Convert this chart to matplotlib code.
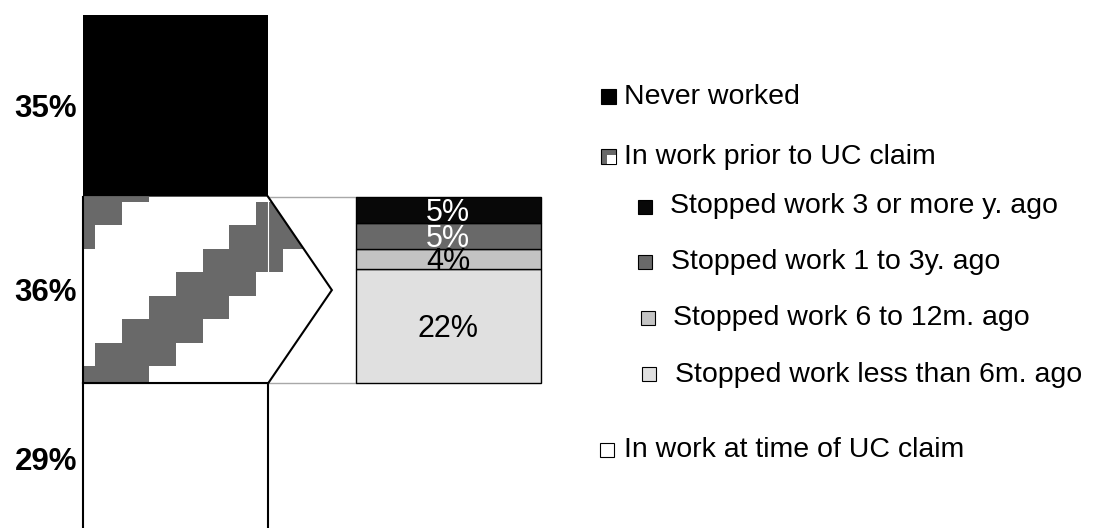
import matplotlib
matplotlib.use('Agg')
import matplotlib.pyplot as plt
from matplotlib.patches import Polygon, Rectangle
from matplotlib.collections import PatchCollection
from matplotlib.transforms import Affine2D, offset_copy

plt.rcParams['font.family'] = ['Liberation Sans', 'DejaVu Sans']

# ---------------- data ----------------
main_labels = ['In work at time of UC claim', 'In work prior to UC claim', 'Never worked']
main_values = [29, 36, 35]                       # stacked bottom -> top
main_text = ['29%', '36%', '35%']

sub_labels = ['Stopped work less than 6m. ago', 'Stopped work 6 to 12m. ago',
              'Stopped work 1 to 3y. ago', 'Stopped work 3 or more y. ago']
sub_values = [22, 4, 5, 5]                       # stacked bottom -> top
sub_text = ['22%', '4%', '5%', '5%']

# ---------------- styles ----------------
main_colors = ['white', 'white', 'black']
sub_colors = ['#e0e0e0', '#c3c3c3', '#696969', '#080808']
sub_text_colors = ['black', 'black', 'white', 'white']
pattern_gray = '#696969'

W, H = 1107, 528
fig = plt.figure(figsize=(W / 100, H / 100), dpi=100)
ax = fig.add_axes([0, 0, 1, 1])
ax.axis('off')

xpx = 272.5        # pixels per x unit
ypx = 5.19         # pixels per percent
x_c0 = 175.5       # pixel position of first bar centre
top_px = 15        # pixel position of 100%
ax.set_xlim(-x_c0 / xpx, (W - x_c0) / xpx)
ymax = 100 + top_px / ypx
ax.set_ylim(ymax - H / ypx, ymax)

bw = 185 / xpx
hw = bw / 2

# ---------- left stacked bar ----------
bottoms = [0, main_values[0], main_values[0] + main_values[1]]
for i, (v, b, c) in enumerate(zip(main_values, bottoms, main_colors)):
    ec = 'black' if i == 0 else 'none'
    ax.bar(0, v, width=bw, bottom=b, color=c, edgecolor=ec, linewidth=1.5, zorder=2)

mid_lo = bottoms[1]
mid_hi = bottoms[1] + main_values[1]
mid_c = (mid_lo + mid_hi) / 2
x0, x1 = -hw, hw
tip = x1 + 0.73 * (1 - 2 * hw)

# arrow shaped region (bar middle + pointer)
arrow = Polygon([(x0, mid_lo), (x0, mid_hi), (x1, mid_hi), (tip, mid_c), (x1, mid_lo)],
                closed=True, facecolor='white', edgecolor='none', zorder=2)
ax.add_patch(arrow)

# staircase pattern inside the arrow region
cw = 26.8 / xpx
rh = 23.5 / ypx
col0 = x0 + 12.3 / xpx
row0 = mid_hi - 5.0 / ypx
cells = []
for r in range(-1, 9):
    for c in range(-1, 10):
        if (c + r + 2) % 8 in (0, 1, 2):
            cells.append(Rectangle((col0 + c * cw, row0 - (r + 1) * rh), cw, rh))
pc = PatchCollection(cells, facecolor=pattern_gray, edgecolor='none', zorder=3)
ax.add_collection(pc)
pc.set_clip_path(arrow)

# outlines
ax.plot([x1, x1], [mid_lo, mid_hi], color='white', lw=0.8, zorder=4)
ax.plot([x1, tip, x1], [mid_hi, mid_c, mid_lo], color='black', lw=1.5, zorder=5,
        solid_joinstyle='miter')
ax.plot([x0, x0], [mid_lo, mid_hi], color='black', lw=1.5, zorder=5)
ax.plot([x0, x1], [mid_lo, mid_lo], color='black', lw=1.5, zorder=5)

# connector lines
ax.plot([x1, 1 - hw], [mid_hi, mid_hi], color='#a8a8a8', lw=1.0, zorder=1)
ax.plot([x1, 1 - hw], [mid_lo, mid_lo], color='#a8a8a8', lw=1.0, zorder=1)

# left labels
lab_fs = 22.5
for v, b, t in zip(main_values, bottoms, main_text):
    tr = offset_copy(ax.transData, fig=fig, x=-6 / 100 * 72, y=-0.36 * lab_fs, units='points')
    ax.text(x0, b + v / 2, t, transform=tr, ha='right', va='baseline',
            fontsize=lab_fs, fontweight='bold', color='black', zorder=6)

# ---------- right stacked bar ----------
in_fs = 22
b = mid_lo
for v, c, t, tc in zip(sub_values, sub_colors, sub_text, sub_text_colors):
    ax.bar(1, v, width=bw, bottom=b, color=c, edgecolor='black', linewidth=1.0, zorder=2)
    tr = offset_copy(ax.transData, fig=fig, y=-0.36 * in_fs, units='points')
    ax.text(1, b + v / 2, t, transform=tr, ha='center', va='baseline',
            fontsize=in_fs, color=tc, zorder=6)
    b += v

# ---------- legend (manual) ----------
pix = Affine2D().scale(1 / W, -1 / H).translate(0, 1) + fig.transFigure
leg_fs = 20.5

def marker(xl, yt, size, fc):
    fig.patches.append(Rectangle((xl, yt), size, size, transform=pix, facecolor=fc,
                                 edgecolor='black', linewidth=0.8))

def label(x, ybase, s):
    fig.text(x, ybase, s, transform=pix, ha='left', va='baseline', fontsize=leg_fs,
             color='black')

# Never worked
marker(600.5, 88.5, 15, main_colors[2])
label(624, 104.3, main_labels[2])
# In work prior to UC claim (patterned)
marker(600.5, 149.3, 15, pattern_gray)
fig.patches.append(Rectangle((607, 155.3), 8.5, 8.5, transform=pix, facecolor='white',
                             edgecolor='none'))
label(624, 164.3, main_labels[1])
# sub categories (top -> bottom)
sub_marker_x = [638, 638, 640.5, 641.5][::-1]
sub_marker_y = [200, 255, 310.5, 367][::-1]
sub_text_x = [670, 671, 673, 675][::-1]
sub_base_y = [213.3, 269.3, 325, 381.7][::-1]
for i in range(3, -1, -1):
    marker(sub_marker_x[i], sub_marker_y[i], 14, sub_colors[i])
    label(sub_text_x[i], sub_base_y[i], sub_labels[i])
# In work at time of UC claim
marker(600, 443, 14, main_colors[0])
label(624, 456.7, main_labels[0])

fig.savefig('out.png', dpi=100, facecolor='white')
